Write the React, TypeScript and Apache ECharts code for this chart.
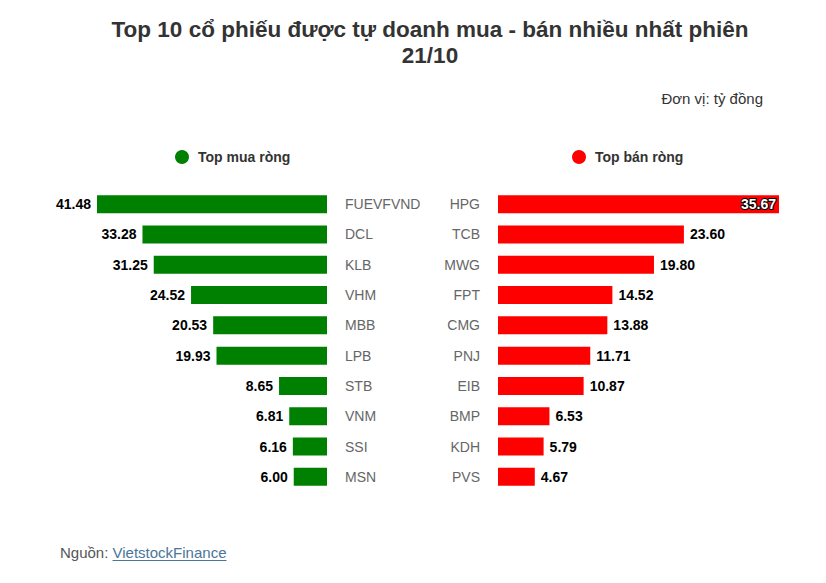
import React, { useEffect, useRef } from "react";
import * as echarts from "echarts";

const titleText = "Top 10 cổ phiếu được tự doanh mua - bán nhiều nhất phiên\n21/10";
const unitText = "Đơn vị: tỷ đồng";
const sourceLabel = "Nguồn: ";
const sourceName = "VietstockFinance";

const buyName = "Top mua ròng";
const sellName = "Top bán ròng";
const buyCategories = ["FUEVFVND", "DCL", "KLB", "VHM", "MBB", "LPB", "STB", "VNM", "SSI", "MSN"];
const buyValues = [41.48, 33.28, 31.25, 24.52, 20.53, 19.93, 8.65, 6.81, 6.16, 6.0];
const sellCategories = ["HPG", "TCB", "MWG", "FPT", "CMG", "PNJ", "EIB", "BMP", "KDH", "PVS"];
const sellValues = [35.67, 23.6, 19.8, 14.52, 13.88, 11.71, 10.87, 6.53, 5.79, 4.67];

const FONT = "'Liberation Sans', Arial, sans-serif";
const GREEN = "#008000";
const RED = "#ff0000";
const LINK = "#4a7699";

function measure(text: string, font: string): number {
  const c = document.createElement("canvas").getContext("2d");
  if (!c) return text.length * 7;
  c.font = font;
  return c.measureText(text).width;
}

export default function App() {
  const ref = useRef<HTMLDivElement>(null);

  useEffect(() => {
    if (!ref.current) return;
    const chart = echarts.init(ref.current, null, { renderer: "svg" });
    const buyMax = Math.max(...buyValues);
    const sellMax = Math.max(...sellValues);

    const valueLabel = (pos: "left" | "right") => ({
      show: true,
      position: pos,
      distance: 6,
      color: "#000",
      fontFamily: FONT,
      fontSize: 14,
      fontWeight: "bold" as const,
      formatter: (p: any) => Number(p.value).toFixed(2),
    });

    const insideLabel = {
      show: true,
      position: "insideRight",
      distance: 3,
      color: "#fff",
      textBorderColor: "#000",
      textBorderWidth: 2,
      fontFamily: FONT,
      fontSize: 14,
      fontWeight: "bold",
      formatter: (p: any) => Number(p.value).toFixed(2),
    };

    const catAxisLabel = (align: "left" | "right") => ({
      show: true,
      margin: 18,
      align,
      color: "#666",
      fontFamily: FONT,
      fontSize: 14,
    });

    const srcFont = `15px ${FONT}`;
    const srcX = 60;
    const linkX = srcX + measure(sourceLabel, srcFont);
    const linkW = measure(sourceName, srcFont);

    const legendText = { color: "#333", fontSize: 14, fontWeight: "bold", fontFamily: FONT, padding: [0, 0, 0, 4] };

    chart.setOption({
      animation: false,
      backgroundColor: "#fff",
      textStyle: { fontFamily: FONT },
      legend: [
        {
          data: [buyName],
          left: 170,
          top: 145,
          icon: "circle",
          itemWidth: 14,
          itemHeight: 14,
          selectedMode: false,
          textStyle: legendText,
        },
        {
          data: [sellName],
          left: 567,
          top: 145,
          icon: "circle",
          itemWidth: 14,
          itemHeight: 14,
          selectedMode: false,
          textStyle: legendText,
        },
      ],
      grid: [
        { left: 97, width: 230, top: 189, height: 303 },
        { left: 498, width: 281, top: 189, height: 303 },
      ],
      xAxis: [
        { gridIndex: 0, type: "value", inverse: true, min: 0, max: buyMax, show: false },
        { gridIndex: 1, type: "value", min: 0, max: sellMax, show: false },
      ],
      yAxis: [
        {
          gridIndex: 0,
          type: "category",
          inverse: true,
          position: "right",
          data: buyCategories,
          axisLine: { show: false },
          axisTick: { show: false },
          splitLine: { show: false },
          axisLabel: catAxisLabel("left"),
        },
        {
          gridIndex: 1,
          type: "category",
          inverse: true,
          position: "left",
          data: sellCategories,
          axisLine: { show: false },
          axisTick: { show: false },
          splitLine: { show: false },
          axisLabel: catAxisLabel("right"),
        },
      ],
      series: [
        {
          name: buyName,
          type: "bar",
          xAxisIndex: 0,
          yAxisIndex: 0,
          barWidth: 18,
          itemStyle: { color: GREEN },
          label: valueLabel("left"),
          data: buyValues.map((v) => v),
        },
        {
          name: sellName,
          type: "bar",
          xAxisIndex: 1,
          yAxisIndex: 1,
          barWidth: 18,
          itemStyle: { color: RED },
          label: valueLabel("right"),
          data: sellValues.map((v) => (v === sellMax ? { value: v, label: insideLabel } : v)),
        },
      ],
      graphic: [
        {
          type: "text",
          x: 430,
          y: 16,
          style: {
            text: titleText,
            align: "center",
            verticalAlign: "top",
            fill: "#333",
            font: `bold 22.5px ${FONT}`,
            lineHeight: 26,
          },
        },
        {
          type: "text",
          x: 763,
          y: 98,
          style: {
            text: unitText,
            align: "right",
            verticalAlign: "middle",
            fill: "#333",
            font: `15px ${FONT}`,
          },
        },
        {
          type: "text",
          x: srcX,
          y: 552,
          style: {
            text: `{a|${sourceLabel}}{b|${sourceName}}`,
            verticalAlign: "middle",
            rich: {
              a: { fill: "#555", font: srcFont },
              b: { fill: LINK, font: srcFont },
            },
          },
        },
        {
          type: "line",
          shape: { x1: linkX, y1: 560.5, x2: linkX + linkW, y2: 560.5 },
          style: { stroke: LINK, lineWidth: 1 },
        },
      ],
    });
    return () => chart.dispose();
  }, []);

  return (
    <div
      ref={ref}
      style={{ position: "fixed", left: 0, top: 0, width: 826, height: 583, background: "#fff" }}
    />
  );
}
